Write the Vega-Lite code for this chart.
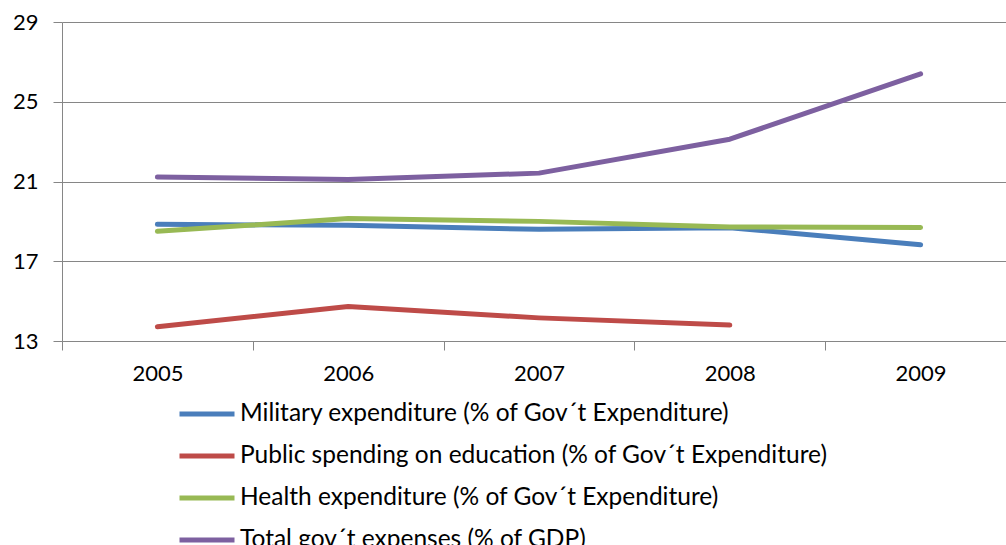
{
  "$schema": "https://vega.github.io/schema/vega-lite/v6.json",
  "width": 954,
  "height": 319,
  "autosize": {"type": "none"},
  "padding": {"left": 62, "top": 22, "right": 0, "bottom": 204},
  "background": "white",
  "config": {
    "view": {"stroke": null},
    "font": "Lato"
  },
  "data": {
    "values": [
      {"year": "2005", "series": "Military expenditure (% of Gov´t Expenditure)", "value": 18.85},
      {"year": "2006", "series": "Military expenditure (% of Gov´t Expenditure)", "value": 18.8},
      {"year": "2007", "series": "Military expenditure (% of Gov´t Expenditure)", "value": 18.6},
      {"year": "2008", "series": "Military expenditure (% of Gov´t Expenditure)", "value": 18.68},
      {"year": "2009", "series": "Military expenditure (% of Gov´t Expenditure)", "value": 17.83},
      {"year": "2005", "series": "Public spending on education (% of Gov´t Expenditure)", "value": 13.72},
      {"year": "2006", "series": "Public spending on education (% of Gov´t Expenditure)", "value": 14.73},
      {"year": "2007", "series": "Public spending on education (% of Gov´t Expenditure)", "value": 14.16},
      {"year": "2008", "series": "Public spending on education (% of Gov´t Expenditure)", "value": 13.8},
      {"year": "2005", "series": "Health expenditure (% of Gov´t Expenditure)", "value": 18.5},
      {"year": "2006", "series": "Health expenditure (% of Gov´t Expenditure)", "value": 19.14},
      {"year": "2007", "series": "Health expenditure (% of Gov´t Expenditure)", "value": 19.0},
      {"year": "2008", "series": "Health expenditure (% of Gov´t Expenditure)", "value": 18.72},
      {"year": "2009", "series": "Health expenditure (% of Gov´t Expenditure)", "value": 18.69},
      {"year": "2005", "series": "Total gov´t expenses (% of GDP)", "value": 21.22},
      {"year": "2006", "series": "Total gov´t expenses (% of GDP)", "value": 21.1},
      {"year": "2007", "series": "Total gov´t expenses (% of GDP)", "value": 21.42},
      {"year": "2008", "series": "Total gov´t expenses (% of GDP)", "value": 23.12},
      {"year": "2009", "series": "Total gov´t expenses (% of GDP)", "value": 26.4}
    ]
  },
  "mark": {"type": "line", "strokeWidth": 5, "strokeCap": "round", "strokeJoin": "round"},
  "encoding": {
    "x": {
      "field": "year",
      "type": "ordinal",
      "bandPosition": 0.5,
      "scale": {"type": "band", "paddingInner": 0, "paddingOuter": 0},
      "axis": {
        "title": null,
        "labelAngle": 0,
        "labelFontSize": 22,
        "labelColor": "black",
        "labelPadding": 13,
        "tickBand": "extent",
        "tickSize": 9,
        "tickColor": "#868686",
        "domainColor": "#868686",
        "grid": false
      }
    },
    "y": {
      "field": "value",
      "type": "quantitative",
      "scale": {"domain": [13, 29], "nice": false, "zero": false},
      "axis": {
        "title": null,
        "values": [13, 17, 21, 25, 29],
        "labelFontSize": 22,
        "labelColor": "black",
        "labelPadding": 15,
        "tickSize": 9,
        "tickColor": "#868686",
        "domainColor": "#868686",
        "grid": true,
        "gridColor": "#868686",
        "gridOpacity": 1
      }
    },
    "color": {
      "field": "series",
      "type": "nominal",
      "sort": [
        "Military expenditure (% of Gov´t Expenditure)",
        "Public spending on education (% of Gov´t Expenditure)",
        "Health expenditure (% of Gov´t Expenditure)",
        "Total gov´t expenses (% of GDP)"
      ],
      "scale": {
        "domain": [
          "Military expenditure (% of Gov´t Expenditure)",
          "Public spending on education (% of Gov´t Expenditure)",
          "Health expenditure (% of Gov´t Expenditure)",
          "Total gov´t expenses (% of GDP)"
        ],
        "range": ["#4A7EBB", "#BE4B48", "#98B954", "#7D60A0"]
      },
      "legend": {
        "title": null,
        "orient": "none",
        "legendX": 115,
        "legendY": 362,
        "padding": 0,
        "direction": "vertical",
        "symbolType": "stroke",
        "symbolSize": 3025,
        "symbolStrokeWidth": 5,
        "labelFontSize": 24.5,
        "labelColor": "black",
        "labelOffset": 3,
        "labelLimit": 900,
        "rowPadding": -4
      }
    }
  }
}
